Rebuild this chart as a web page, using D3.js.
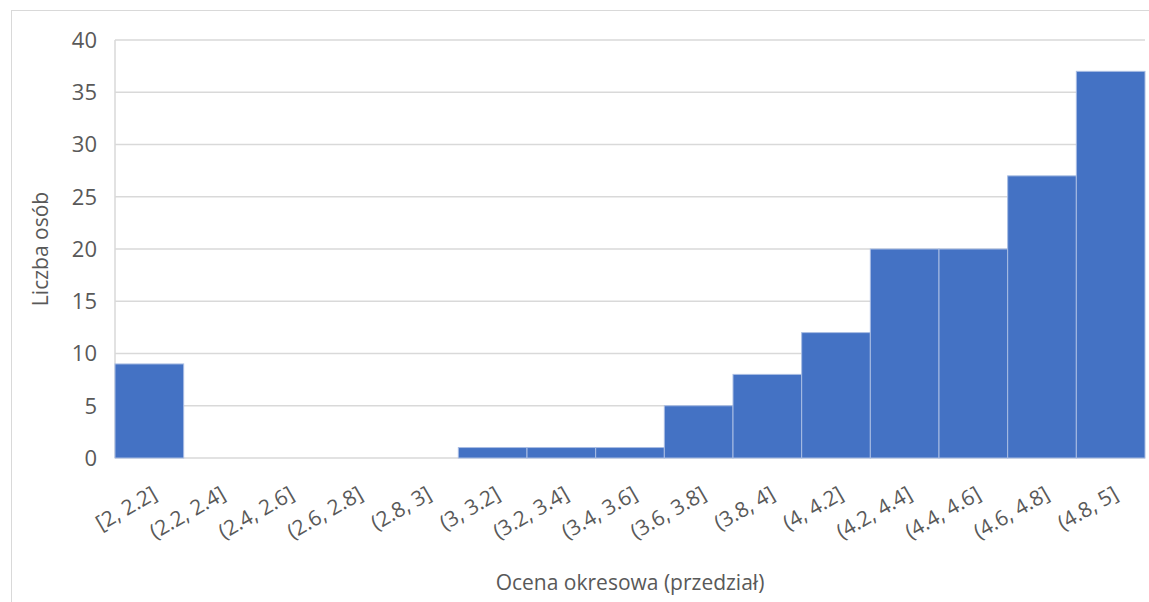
<!DOCTYPE html>
<html>
<head>
<meta charset="utf-8">
<script src="https://cdn.jsdelivr.net/npm/d3@7"></script>
<style>
	body { margin: 0; background: #fff; }
	text { font-family: 'Open Sans', 'Noto Sans', sans-serif; fill: #595959; }
</style>
</head>
<body>
<svg id="chart" width="1149" height="602"></svg>
<script>
const bins = ['[2, 2.2]', '(2.2, 2.4]', '(2.4, 2.6]', '(2.6, 2.8]', '(2.8, 3]', '(3, 3.2]', '(3.2, 3.4]',
	'(3.4, 3.6]', '(3.6, 3.8]', '(3.8, 4]', '(4, 4.2]', '(4.2, 4.4]', '(4.4, 4.6]', '(4.6, 4.8]', '(4.8, 5]']
const counts = [9, 0, 0, 0, 0, 1, 1, 1, 5, 8, 12, 20, 20, 27, 37]
const yTicks = [0, 5, 10, 15, 20, 25, 30, 35, 40]

const svg = d3.select('#chart')
const plotLeft = 115
const plotRight = 1145
const plotTop = 40
const plotBottom = 458

// chart frame
svg.append('rect')
	.attr('x', 11.5).attr('y', 10.5)
	.attr('width', 1150).attr('height', 600)
	.style('fill', 'none').style('stroke', '#d9d9d9')

const x = d3.scaleBand().domain(bins).range([plotLeft, plotRight]).padding(0)
const y = d3.scaleLinear().domain([0, 40]).range([plotBottom, plotTop])

// gridlines
svg.append('g')
	.selectAll('line')
	.data(yTicks)
	.join('line')
	.attr('x1', plotLeft).attr('x2', plotRight)
	.attr('y1', (d) => y(d)).attr('y2', (d) => y(d))
	.style('stroke', '#d9d9d9').style('stroke-width', 1.5)

// vertical axis line
svg.append('line')
	.attr('x1', plotLeft).attr('x2', plotLeft)
	.attr('y1', plotTop).attr('y2', plotBottom)
	.style('stroke', '#d9d9d9').style('stroke-width', 1.5)

// bars
svg.append('g')
	.selectAll('rect')
	.data(bins.map((b, i) => ({ bin: b, value: counts[i] })))
	.join('rect')
	.attr('x', (d) => x(d.bin))
	.attr('y', (d) => y(d.value))
	.attr('width', x.bandwidth())
	.attr('height', (d) => plotBottom - y(d.value))
	.style('fill', '#4472c4')
	.style('stroke', '#a9bde3')
	.style('stroke-width', 1)

// y tick labels
svg.append('g')
	.selectAll('text')
	.data(yTicks)
	.join('text')
	.attr('x', 97)
	.attr('y', (d) => y(d))
	.attr('dy', '0.36em')
	.attr('text-anchor', 'end')
	.style('font-size', '22px')
	.text((d) => d)

// x tick labels, rotated
svg.append('g')
	.selectAll('text')
	.data(bins)
	.join('text')
	.attr('text-anchor', 'end')
	.attr('transform', (d) => `translate(${x(d) + x.bandwidth() / 2 + 9}, ${plotBottom + 40}) rotate(-30)`)
	.style('font-size', '21px')
	.text((d) => d)

// axis titles
svg.append('text')
	.attr('transform', `translate(48, 249) rotate(-90)`)
	.attr('text-anchor', 'middle')
	.style('font-size', '21px')
	.text('Liczba osób')

svg.append('text')
	.attr('x', (plotLeft + plotRight) / 2)
	.attr('y', 590)
	.attr('text-anchor', 'middle')
	.style('font-size', '21px')
	.text('Ocena okresowa (przedział)')
</script>
</body>
</html>
